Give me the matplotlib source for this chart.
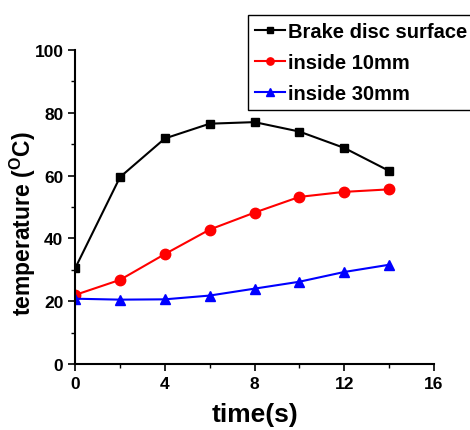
import matplotlib
matplotlib.use("Agg")
import matplotlib.pyplot as plt
from matplotlib.ticker import MultipleLocator

plt.rcParams['font.family'] = ['Liberation Sans', 'DejaVu Sans']
plt.rcParams['font.weight'] = 'bold'
plt.rcParams['mathtext.fontset'] = 'custom'
plt.rcParams['mathtext.bf'] = 'Liberation Sans:bold'

# 数据
time_s = [0, 2, 4, 6, 8, 10, 12, 14]
surface = [30.5, 59.5, 71.8, 76.5, 77.0, 74.0, 68.8, 61.5]
inside_10mm = [22.0, 26.8, 35.0, 42.8, 48.2, 53.2, 54.8, 55.6]
inside_30mm = [20.8, 20.5, 20.6, 21.8, 24.0, 26.2, 29.3, 31.6]

fig = plt.figure(figsize=(4.7, 4.31), dpi=100)
ax = fig.add_axes([0.16, 0.153, 0.763, 0.729])

ax.plot(time_s, surface, color='black', marker='s', markersize=6, lw=1.5, label='Brake disc surface')
ax.plot(time_s, inside_10mm, color='red', marker='o', markersize=7.5, lw=1.5, label='inside 10mm')
ax.plot(time_s, inside_30mm, color='blue', marker='^', markersize=7.5, lw=1.5, label='inside 30mm')

ax.set_xlim(0, 16)
ax.set_ylim(0, 100)
ax.xaxis.set_major_locator(MultipleLocator(4))
ax.xaxis.set_minor_locator(MultipleLocator(2))
ax.yaxis.set_major_locator(MultipleLocator(20))
ax.yaxis.set_minor_locator(MultipleLocator(10))
ax.spines['top'].set_visible(False)
ax.spines['right'].set_visible(False)
ax.spines['left'].set_linewidth(1.5)
ax.spines['bottom'].set_linewidth(1.5)
ax.tick_params(which='major', direction='out', length=5, width=1.2, labelsize=12.5)
ax.tick_params(which='minor', direction='out', length=3, width=1.0)
for lab in ax.get_xticklabels() + ax.get_yticklabels():
    lab.set_fontweight('bold')

ax.set_xlabel('time(s)', fontsize=19, fontweight='bold', labelpad=8)
ax.set_ylabel(r'temperature ($^{\mathbf{O}}$C)', fontsize=16.5, fontweight='bold')
ax.yaxis.set_label_coords(-0.105, 0.45)

leg = fig.legend(loc='upper left', bbox_to_anchor=(0.528, 0.964), fontsize=14.5,
                 handlelength=1.5, handletextpad=0.12, borderpad=0.35, labelspacing=0.6,
                 borderaxespad=0, fancybox=False, edgecolor='black', framealpha=1, markerscale=0.7)
leg.get_frame().set_linewidth(1.0)

fig.savefig('out.png', dpi=100)
